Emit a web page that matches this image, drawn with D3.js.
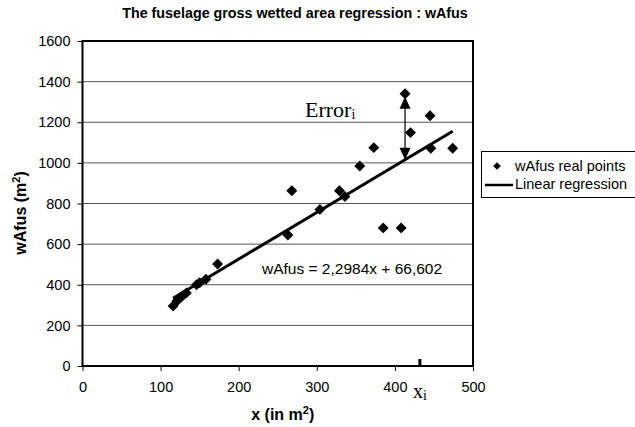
<!DOCTYPE html>
<html>
<head>
<meta charset="utf-8">
<script src="https://cdn.jsdelivr.net/npm/d3@7"></script>
<style>
body{margin:0;background:#fff;}
svg{font-family:Arial,"Liberation Sans",sans-serif;}
</style>
</head>
<body>
<div id="chart"></div>
<script>
// wetted area points
var xVals=[116,121,124,128,133,146,150,158,173,263,268,304,329,336,355,373,385,408,413,420,445,446,474];
var yVals=[295,320,335,345,360,400,410,427,502,645,863,771,863,834,985,1075,680,680,1340,1149,1232,1072,1072];
var xTicks=[0,100,200,300,400,500];
var yTicks=[0,200,400,600,800,1000,1200,1400,1600];
var slope=2.2984, intercept=66.602;
var errX=413, errTop=1325;   // point used for Error_i
var xiMark=432;

var width=635, height=427;
var pLeft=82.5, pRight=473, pTop=41, pBottom=366;

var svg=d3.select("#chart").append("svg")
	.attr("width",width)
	.attr("height",height);

var x=d3.scaleLinear().domain([0,500]).range([pLeft,pRight]);
var y=d3.scaleLinear().domain([0,1600]).range([pBottom,pTop]);

svg.append("text")
	.attr("x",295)
	.attr("y",18)
	.attr("text-anchor","middle")
	.style("font-weight","bold")
	.style("font-size","14.3px")
	.text("The fuselage gross wetted area regression : wAfus");

// grid
svg.append("g").selectAll("line")
	.data(yTicks.filter(function(d){return d>0 && d<1600;}))
	.enter().append("line")
	.attr("x1",pLeft).attr("x2",pRight)
	.attr("y1",function(d){return y(d);})
	.attr("y2",function(d){return y(d);})
	.style("stroke","#555")
	.style("stroke-width",1);

// axes
var yAxis=svg.append("g")
	.attr("transform","translate("+pLeft+",0)")
	.call(d3.axisLeft(y).tickValues(yTicks).tickFormat(d3.format("d")).tickSize(5).tickPadding(7));
var xAxis=svg.append("g")
	.attr("transform","translate(0,"+pBottom+")")
	.call(d3.axisBottom(x).tickValues(xTicks).tickFormat(d3.format("d")).tickSize(5).tickPadding(11));
[yAxis,xAxis].forEach(function(a){
	a.select(".domain").remove();
	a.selectAll("text").style("font-size","14.5px").style("font-family","Arial,'Liberation Sans',sans-serif").style("fill","#000");
	a.selectAll("line").style("stroke","#000");
});

// frame
svg.append("rect")
	.attr("x",pLeft).attr("y",pTop)
	.attr("width",pRight-pLeft).attr("height",pBottom-pTop)
	.style("fill","none")
	.style("stroke","#000")
	.style("stroke-width",2);

// regression line
var xMin=d3.min(xVals), xMax=d3.max(xVals);
svg.append("line")
	.attr("x1",x(xMin)).attr("y1",y(slope*xMin+intercept))
	.attr("x2",x(xMax)).attr("y2",y(slope*xMax+intercept))
	.style("stroke","#000")
	.style("stroke-width",3);

// points
var diamond=d3.symbol().type(d3.symbolSquare).size(60);
svg.append("g").selectAll("path")
	.data(d3.range(xVals.length))
	.enter().append("path")
	.attr("d",diamond)
	.attr("transform",function(i){return "translate("+x(xVals[i])+","+y(yVals[i])+") rotate(45)";})
	.style("fill","#000");

// error arrow
var ax=x(errX), ay1=y(errTop), ay2=y(slope*errX+intercept);
svg.append("line")
	.attr("x1",ax).attr("x2",ax)
	.attr("y1",ay1+8).attr("y2",ay2-8)
	.style("stroke","#000").style("stroke-width",1.2);
svg.append("path")
	.attr("d","M"+ax+","+ay1+" l-5.5,12 l11,0 z")
	.style("fill","#000");
svg.append("path")
	.attr("d","M"+ax+","+ay2+" l-5.5,-12 l11,0 z")
	.style("fill","#000");

var err=svg.append("text")
	.attr("x",305)
	.attr("y",117)
	.style("font-family","'Liberation Serif','DejaVu Serif',serif")
	.style("font-size","22px");
err.append("tspan").text("Error");
err.append("tspan").attr("dy",2).style("font-size","14px").text("i");

// x_i mark
svg.append("line")
	.attr("x1",x(xiMark)).attr("x2",x(xiMark))
	.attr("y1",pBottom-7).attr("y2",pBottom+1)
	.style("stroke","#000").style("stroke-width",3);
var xi=svg.append("text")
	.attr("x",x(xiMark)-7)
	.attr("y",398)
	.style("font-family","'Liberation Serif','DejaVu Serif',serif")
	.style("font-size","20px");
xi.append("tspan").text("x");
xi.append("tspan").attr("dy",2).style("font-size","14px").text("i");

// equation
svg.append("text")
	.attr("x",262)
	.attr("y",274)
	.style("font-size","15.5px")
	.text("wAfus = 2,2984x + 66,602");

// axis titles
svg.append("text")
	.attr("x",(pLeft+pRight)/2+5)
	.attr("y",420)
	.attr("text-anchor","middle")
	.style("font-weight","bold")
	.style("font-size","16px")
	.html("x (in m<tspan dy='-6' font-size='11px'>2</tspan><tspan dy='6'>)</tspan>");
svg.append("text")
	.attr("transform","translate(26,213) rotate(-90)")
	.attr("text-anchor","middle")
	.style("font-weight","bold")
	.style("font-size","16px")
	.html("wAfus (m<tspan dy='-6' font-size='11px'>2</tspan><tspan dy='6'>)</tspan>");

// legend
var lg=svg.append("g");
lg.append("rect")
	.attr("x",481.5).attr("y",151.5)
	.attr("width",160).attr("height",46)
	.style("fill","#fff").style("stroke","#000");
lg.append("path")
	.attr("d",d3.symbol().type(d3.symbolSquare).size(30))
	.attr("transform","translate(497,166) rotate(45)")
	.style("fill","#000");
lg.append("line")
	.attr("x1",485).attr("x2",513).attr("y1",185).attr("y2",185)
	.style("stroke","#000").style("stroke-width",2.5);
lg.append("text").attr("x",515).attr("y",171).style("font-size","14.5px").text("wAfus real points");
lg.append("text").attr("x",515).attr("y",189).style("font-size","14.5px").text("Linear regression");
</script>
</body>
</html>
